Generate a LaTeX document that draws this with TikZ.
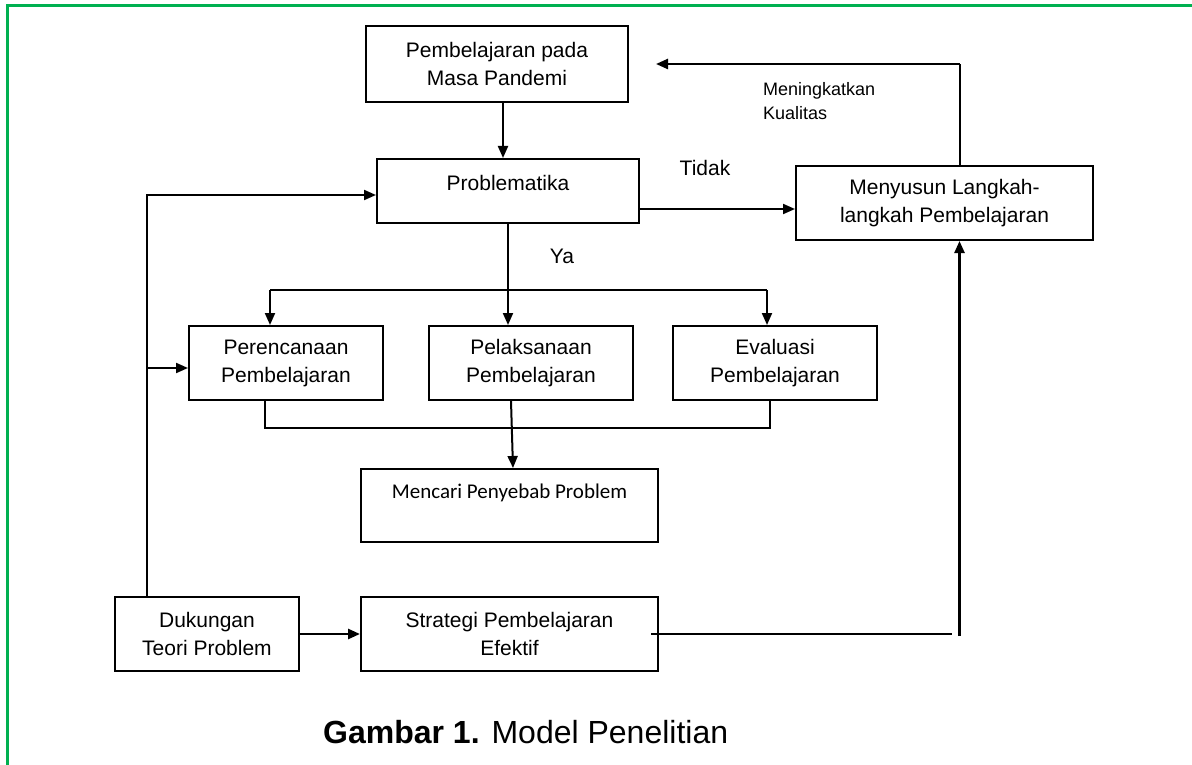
\documentclass[tikz,border=0pt]{standalone}
\usepackage{fontspec}
\setmainfont{Liberation Sans}
\newfontfamily\calibri{Carlito}
\usetikzlibrary{arrows.meta}
\definecolor{hijau}{RGB}{0,176,80}

\begin{document}
\begin{tikzpicture}[x=1pt,y=-1pt,
  blok/.style={draw,line width=2pt,inner sep=0pt,align=center,font=\fontsize{21}{28}\selectfont},
  teks/.style={inner sep=0pt,font=\fontsize{21}{28}\selectfont},
  garis/.style={line width=2pt},
  tipis/.style={line width=1.5pt},
  panah/.style={line width=2pt,-{Triangle[length=12pt,width=10pt]}}]
\useasboundingbox (0,0) rectangle (1192,765);
\draw[hijau,line width=3pt] (7,765)--(7,6)--(1192,6);

% kotak
\node[blok,minimum width=262pt,minimum height=76pt] (pandemi) at (497,64) {Pembelajaran pada\\Masa Pandemi};
\node[blok,minimum width=262pt,minimum height=64pt,text depth=16pt] (prob) at (508,191) {Problematika};
\node[blok,minimum width=297pt,minimum height=74pt] (menyusun) at (944.5,203) {Menyusun Langkah-\\langkah Pembelajaran};
\node[blok,minimum width=194pt,minimum height=74pt] (rencana) at (286,363) {Perencanaan\\Pembelajaran};
\node[blok,minimum width=204pt,minimum height=74pt] (laksana) at (531,363) {Pelaksanaan\\Pembelajaran};
\node[blok,minimum width=204pt,minimum height=74pt] (evaluasi) at (775,363) {Evaluasi\\Pembelajaran};
\node[blok,minimum width=297pt,minimum height=73pt,font=\calibri\fontsize{21}{28}\selectfont] (mencari) at (509.5,505.5) {Mencari Penyebab Problem\\~};
\node[blok,minimum width=184pt,minimum height=74pt] (dukungan) at (207,634) {Dukungan\\Teori Problem};
\node[blok,minimum width=297pt,minimum height=74pt] (strategi) at (509.5,634) {Strategi Pembelajaran\\Efektif};

% label
\node[teks] (tidak) at (705,168) {Tidak};
\node[teks] (ya) at (562,256) {Ya};
\node[teks,anchor=north west,align=left,font=\fontsize{18}{24}\selectfont] (kualitas) at (763,82.5) {Meningkatkan\\Kualitas};
\node[inner sep=0pt,anchor=base west,font=\fontsize{32}{36}\selectfont] (judul) at (323,743) {\textbf{Gambar 1.} Model Penelitian};

% titik bantu
\coordinate (kembali) at (656,64);
\coordinate (sudut) at (960,64);
\coordinate (forkL) at (270,290);
\coordinate (forkR) at (767,290);
\coordinate (gabungL) at (265,428);
\coordinate (gabungR) at (770,428);

% panah
\draw[panah] ([xshift=6pt]pandemi.south)--([xshift=-5pt]prob.north);
\draw[panah] ([yshift=-18pt]prob.east)--([yshift=-18pt]prob.east -| menyusun.west);
\draw[tipis] ([xshift=15.5pt]menyusun.north)--(sudut);
\draw[panah,line width=2.4pt] (sudut)--(kembali);
\draw[panah] (prob.south)--(prob.south |- laksana.north);
\draw[garis] (forkL)--(forkR);
\draw[panah] (forkL)--(forkL |- rencana.north);
\draw[panah] (forkR)--(forkR |- evaluasi.north);
\draw[garis] (gabungL |- rencana.south)--(gabungL)--(gabungR)--(gabungR |- evaluasi.south);
\draw[panah] ([xshift=-20pt]laksana.south)--([xshift=3.5pt]mencari.north);
\draw[panah] ([xshift=-60pt]dukungan.north) |- ([yshift=-4pt]prob.west);
\draw[panah] ([xshift=-60pt,yshift=-5pt]dukungan.north |- rencana.west)--([yshift=-5pt]rencana.west);
\draw[panah,line width=2.6pt] (dukungan.east)--(strategi.west);
\draw[tipis] ([xshift=-8pt]strategi.east) -- ([xshift=7pt]strategi.east -| menyusun.south);
\draw[panah,line width=2.4pt] ([xshift=15pt,yshift=-2pt]strategi.east -| menyusun.south)--([xshift=15pt]menyusun.south);
\end{tikzpicture}
\end{document}
